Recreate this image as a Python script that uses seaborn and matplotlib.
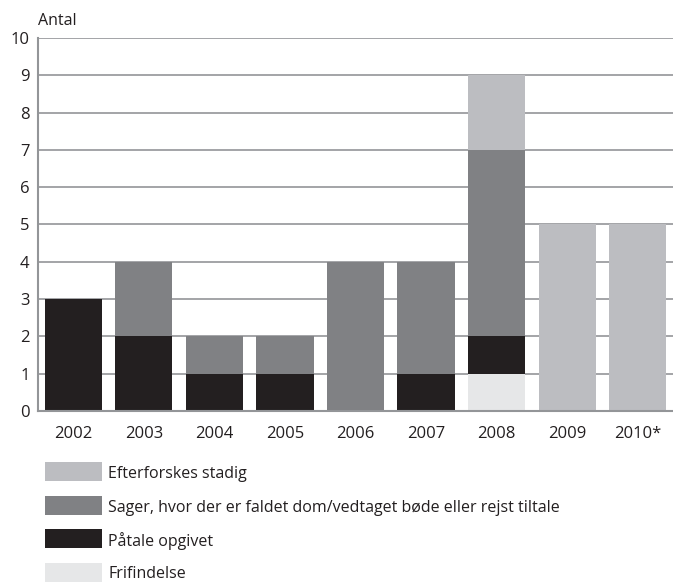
import matplotlib
matplotlib.use("Agg")
import matplotlib.pyplot as plt
import seaborn as sns
import pandas as pd
import numpy as np
from matplotlib.patches import Rectangle

years = ["2002", "2003", "2004", "2005", "2006", "2007", "2008", "2009", "2010*"]
frifindelse = [0, 0, 0, 0, 0, 0, 1, 0, 0]
paatale = [3, 2, 1, 1, 0, 1, 1, 0, 0]
sager = [0, 2, 1, 1, 4, 3, 5, 0, 0]
efterforskes = [0, 0, 0, 0, 0, 0, 2, 5, 5]

series_names = ["Frifindelse", "Påtale opgivet",
                "Sager, hvor der er faldet dom/vedtaget bøde eller rejst tiltale",
                "Efterforskes stadig"]
colors = ["#e6e7e8", "#231f20", "#808184", "#bcbdc1"]

sns.set_theme(style="white")
plt.rcParams['font.family'] = ['Open Sans', 'DejaVu Sans']

fig = plt.figure(figsize=(6.73, 5.83), dpi=100)
W, H = 673, 583
ax = fig.add_axes([38 / W, 172 / H, 635 / W, 373 / H])

series = [frifindelse, paatale, sager, efterforskes]
cum = np.cumsum(np.array(series, dtype=float), axis=0)

for v in range(1, 11):
    ax.axhline(v, color="#939598", lw=1.2, zorder=0)

for i in range(3, -1, -1):
    df = pd.DataFrame({"year": years, "value": cum[i]})
    sns.barplot(data=df, x="year", y="value", color=colors[i], ax=ax,
                width=0.81, linewidth=0, saturation=1, zorder=2)

ax.set_xlim(-0.5, 8.5)
ax.set_ylim(0, 10)
ax.set_yticks(range(0, 11))
ax.set_xlabel("")
ax.set_ylabel("")
for s in ["top", "right"]:
    ax.spines[s].set_visible(False)
for s in ["left", "bottom"]:
    ax.spines[s].set_color("#939598")
    ax.spines[s].set_linewidth(1.5)
ax.tick_params(axis="both", length=0, labelsize=12, colors="#231f20", pad=6)
ax.tick_params(axis="x", pad=11)

fig.text(38 / W, 1 - 21 / H, "Antal", fontsize=11.5, color="#231f20",
         ha="left", va="center")

leg_order = [3, 2, 1, 0]
y0 = 462
for k, idx in enumerate(leg_order):
    top = y0 + k * 33.5
    fig.add_artist(Rectangle((45 / W, 1 - (top + 19) / H), 57 / W, 19 / H,
                             transform=fig.transFigure, color=colors[idx], lw=0))
    fig.text(108 / W, 1 - (top + 12) / H, series_names[idx], fontsize=11.5,
             color="#231f20", ha="left", va="center")

fig.savefig("out.png", dpi=100)
